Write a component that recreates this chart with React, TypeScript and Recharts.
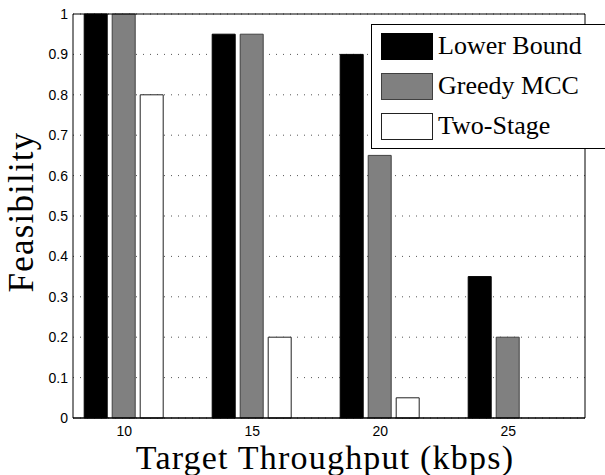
import React from "react";
import {
  BarChart,
  Bar,
  XAxis,
  YAxis,
  CartesianGrid,
  Legend,
  Label,
} from "recharts";

const throughputs = [10, 15, 20, 25];
const lowerBound = [1, 0.95, 0.9, 0.35];
const greedyMcc = [1, 0.95, 0.65, 0.2];
const twoStage = [0.8, 0.2, 0.05, 0];
const seriesNames = ["Lower Bound", "Greedy MCC", "Two-Stage"];
const xTicks = [10, 15, 20, 25];
const yTicks = [0, 0.1, 0.2, 0.3, 0.4, 0.5, 0.6, 0.7, 0.8, 0.9, 1];

const data = throughputs.map((t, i) => ({
  x: t,
  lower: lowerBound[i],
  greedy: greedyMcc[i],
  two: twoStage[i],
}));

const SERIF = '"Liberation Serif", "Times New Roman", serif';
const SANS = '"Liberation Sans", Arial, sans-serif';

const tickStyle = { fontSize: 14, fontFamily: SANS, fill: "#000" };

const renderLegend = (props: any) => {
  // keep the order of the series, not the order recharts hands back
  const payload = [...(props.payload || [])].sort(
    (a: any, b: any) => seriesNames.indexOf(a.value) - seriesNames.indexOf(b.value)
  );
  return (
    <div
      style={{
        width: 240,
        height: 125,
        border: "1px solid #000",
        background: "#fff",
        boxSizing: "border-box",
        paddingTop: 7,
        paddingLeft: 9,
      }}
    >
      {payload.map((entry: any) => (
        <div
          key={entry.value}
          style={{
            display: "flex",
            alignItems: "center",
            height: 28,
            marginBottom: 12,
          }}
        >
          <div
            style={{
              width: 52,
              height: 27,
              background: entry.payload?.fill ?? entry.color,
              border: `1px solid ${entry.payload?.stroke ?? "#000"}`,
              boxSizing: "border-box",
            }}
          />
          <span
            style={{
              marginLeft: 5,
              fontFamily: SERIF,
              fontSize: 26,
              color: "#000",
              lineHeight: "28px",
              whiteSpace: "nowrap",
            }}
          >
            {entry.value}
          </span>
        </div>
      ))}
    </div>
  );
};

export default function App() {
  return (
    <div
      style={{
        position: "absolute",
        left: 0,
        top: 0,
        width: 605,
        height: 475,
        overflow: "hidden",
        background: "#fff",
      }}
    >
      <BarChart
        width={605}
        height={475}
        data={data}
        margin={{ top: 14, right: 20, bottom: 27, left: 33 }}
        barSize={23}
        barGap={5}
      >
        <CartesianGrid
          vertical={false}
          stroke="#555"
          strokeDasharray="1 6"
        />
        <XAxis
          dataKey="x"
          type="number"
          domain={[8, 28]}
          ticks={xTicks}
          tickLine={false}
          tickSize={0}
          tickMargin={8}
          height={30}
          axisLine={{ stroke: "#000", strokeWidth: 1.5 }}
          tick={tickStyle}
        >
          <Label
            content={({ viewBox }: any) => (
              <text
                x={viewBox.x + viewBox.width / 2 - 4}
                y={469}
                textAnchor="middle"
                fontFamily={SERIF}
                fontSize={34}
                letterSpacing={1.2}
                fill="#000"
              >
                Target Throughput (kbps)
              </text>
            )}
          />
        </XAxis>
        <XAxis
          xAxisId="bm"
          dataKey="x"
          type="number"
          domain={[8, 28]}
          ticks={xTicks}
          orientation="bottom"
          mirror
          tick={false}
          tickSize={5}
          tickLine={{ stroke: "#000" }}
          axisLine={false}
        />
        <XAxis
          xAxisId="top"
          dataKey="x"
          type="number"
          domain={[8, 28]}
          ticks={xTicks}
          orientation="top"
          mirror
          tick={false}
          tickSize={5}
          tickLine={{ stroke: "#000" }}
          axisLine={{ stroke: "#000" }}
        />
        <YAxis
          domain={[0, 1]}
          ticks={yTicks}
          width={40}
          tickLine={false}
          tickSize={0}
          tickMargin={5}
          axisLine={{ stroke: "#000" }}
          tick={tickStyle}
        >
          <Label
            content={({ viewBox }: any) => {
              const cy = viewBox.y + viewBox.height / 2 - 4;
              return (
                <text
                  x={33}
                  y={cy}
                  transform={`rotate(-90 33 ${cy})`}
                  textAnchor="middle"
                  fontFamily={SERIF}
                  fontSize={35}
                  letterSpacing={1.2}
                  fill="#000"
                >
                  Feasibility
                </text>
              );
            }}
          />
        </YAxis>
        <YAxis
          yAxisId="lm"
          domain={[0, 1]}
          ticks={yTicks}
          orientation="left"
          mirror
          tick={false}
          tickSize={5}
          tickLine={{ stroke: "#000" }}
          axisLine={false}
        />
        <YAxis
          yAxisId="right"
          domain={[0, 1]}
          ticks={yTicks}
          orientation="right"
          mirror
          tick={false}
          tickSize={5}
          tickLine={{ stroke: "#000" }}
          axisLine={{ stroke: "#000" }}
        />
        <Legend
          layout="vertical"
          align="center"
          verticalAlign="middle"
          content={renderLegend}
          wrapperStyle={{ left: 371, top: 24, width: 240 }}
        />
        <Bar
          dataKey="lower"
          name={seriesNames[0]}
          fill="#000"
          stroke="#000"
          isAnimationActive={false}
        />
        <Bar
          dataKey="greedy"
          name={seriesNames[1]}
          fill="#808080"
          stroke="#404040"
          isAnimationActive={false}
        />
        <Bar
          dataKey="two"
          name={seriesNames[2]}
          fill="#fff"
          stroke="#222"
          isAnimationActive={false}
        />
      </BarChart>
    </div>
  );
}
